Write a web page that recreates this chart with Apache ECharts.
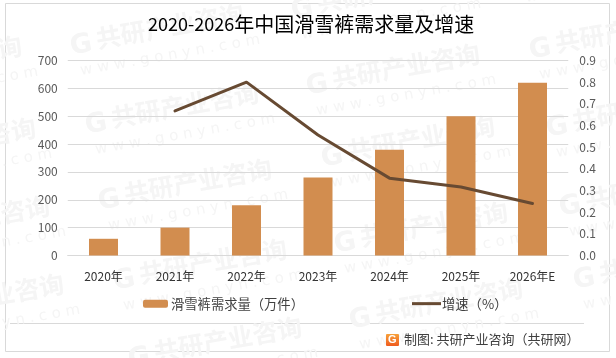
<!DOCTYPE html>
<html><head><meta charset="utf-8">
<style>html,body{margin:0;padding:0;background:#fff}#c{width:616px;height:358px}</style>
<script src="https://cdn.jsdelivr.net/npm/echarts@6/dist/echarts.min.js"></script>
</head><body><div id="c"></div>
<script>
const categories=['2020年','2021年','2022年','2023年','2024年','2025年','2026年E'];
const demand=[60,100,180,280,380,500,620];
const growth=[null,0.667,0.8,0.556,0.357,0.316,0.24];
const titleYears='2020-2026';
const titleRest='年中国滑雪裤需求量及增速';
const barName='滑雪裤需求量（万件）';
const lineName='增速（%）';
const sourceText='制图: 共研产业咨询（共研网）';
const wmCN='共研产业咨询';
const wmEN='w w w . g o n y n . c o m';
const wmPos=[[72,58],[87,137],[100,213],[115,293],[130,371],[293,22],[308,98],[323,170],[336,256],[351,332],[517,-15],[531,62],[548,140],[561,219],[575,292],[-150,90],[-136,172],[-122,250],[-108,328]];
const font='"Noto Sans CJK SC","Noto Sans",sans-serif';
const chart=echarts.init(document.getElementById('c'),null,{renderer:'canvas'});
const wm=[];
wmPos.forEach(([x,y])=>{
  wm.push({type:'group',x:x,y:y,rotation:10*Math.PI/180,z:-10,silent:true,children:[
    {type:'text',x:0,y:-24,style:{text:'G',fill:'#f5f5f5',font:'bold 27px "DejaVu Sans",sans-serif'}},
    {type:'text',x:27,y:-27,style:{text:wmCN,fill:'#f5f5f5',font:'bold 25px '+font}},
    {type:'text',x:6,y:7,style:{text:wmEN,fill:'#f5f5f5',font:'15px "DejaVu Sans",sans-serif'}}
  ]});
});
chart.setOption({
  backgroundColor:'#fff',animation:false,
  title:{text:'{d|'+titleYears+'}{c|'+titleRest+'}',left:148,top:14,padding:0,textStyle:{fontFamily:font,fontSize:20,fontWeight:'normal',color:'#000',
    rich:{d:{fontFamily:font,fontSize:18,color:'#000'},c:{fontFamily:font,fontSize:20,color:'#000'}}}},
  grid:{left:67.75,right:47.75,top:60.5,bottom:102.5,containLabel:false},
  legend:[
    {data:[barName],left:143,top:297,padding:0,itemWidth:25,itemHeight:8,itemGap:3,textStyle:{fontFamily:font,fontSize:13.3,color:'#404040',padding:[0,0,0,-2]}},
    {data:[{name:lineName,icon:'rect'}],left:412,top:297,padding:0,itemWidth:29,itemHeight:3,textStyle:{fontFamily:font,fontSize:13.3,color:'#404040',padding:[0,0,0,-4]}}
  ],
  xAxis:{type:'category',data:categories,axisTick:{show:false},axisLine:{lineStyle:{color:'#d9d9d9',width:1}},
    axisLabel:{margin:15,fontFamily:font,fontSize:12,color:'#333',hideOverlap:false,interval:0}},
  yAxis:[
    {type:'value',min:0,max:700,interval:100,axisLine:{show:false},axisTick:{show:false},splitLine:{lineStyle:{color:'#d9d9d9',width:1}},
      axisLabel:{margin:10,fontFamily:font,fontSize:12,color:'#595959'}},
    {type:'value',min:0,max:0.9,interval:0.1,axisLine:{show:false},axisTick:{show:false},splitLine:{show:false},
      axisLabel:{margin:11,fontFamily:font,fontSize:12,color:'#595959',formatter:v=>v.toFixed(1)}}
  ],
  series:[
    {name:barName,type:'bar',data:demand,barWidth:29,itemStyle:{color:'#d28d4f'},yAxisIndex:0},
    {name:lineName,type:'line',data:growth,yAxisIndex:1,symbol:'none',connectNulls:false,itemStyle:{color:'#674a32'},lineStyle:{color:'#674a32',width:3,cap:'round',join:'round'}}
  ],
  graphic:[
    ...wm,
    {type:'rect',z:-5,silent:true,shape:{x:5.5,y:3.5,width:604,height:348},style:{fill:'none',stroke:'#d9d9d9',lineWidth:1}},
    {type:'line',z:-5,silent:true,shape:{x1:10,y1:323.5,x2:584,y2:323.5},style:{stroke:'#d9d9d9',lineWidth:1}},
    {type:'rect',silent:true,shape:{x:386,y:334,width:13,height:12,r:1},style:{fill:new echarts.graphic.LinearGradient(0,0,0,1,[{offset:0,color:'#f7a13a'},{offset:1,color:'#ef5b1e'}])}},
    {type:'text',silent:true,x:388,y:334,style:{text:'G',fill:'#fff',font:'bold 11px sans-serif'}},
    {type:'text',silent:true,x:404,y:333,style:{text:sourceText,fill:'#404040',font:'13px '+font}}
  ]
});
</script></body></html>
